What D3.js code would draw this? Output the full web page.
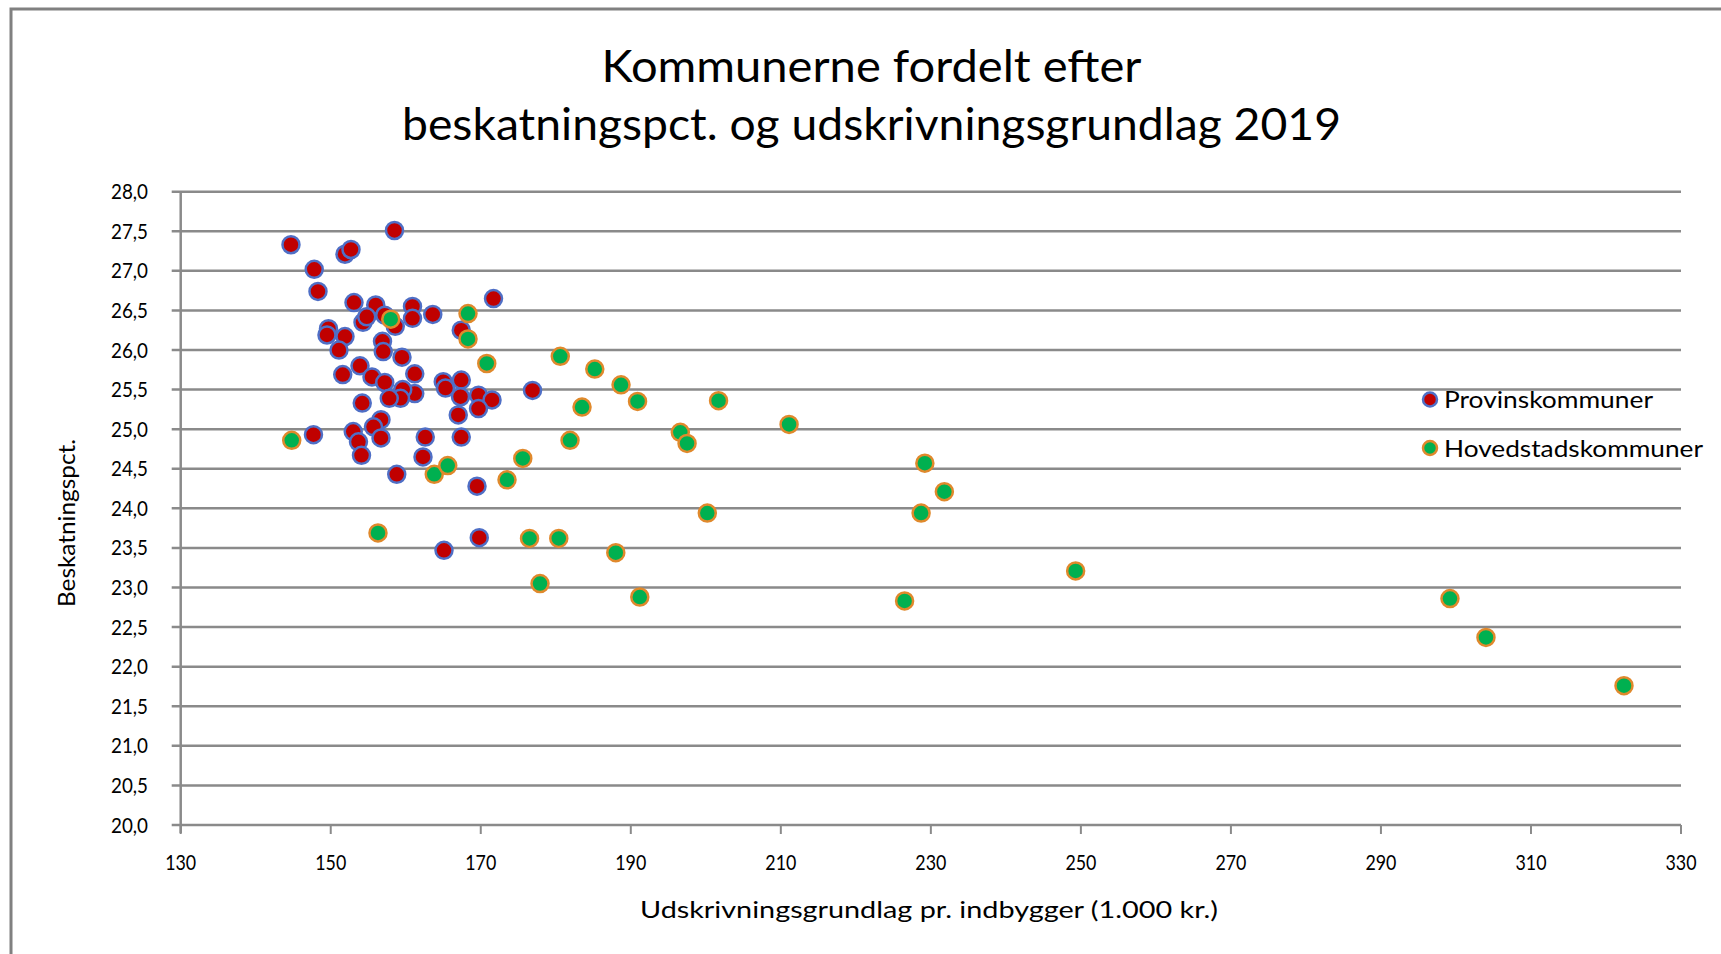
<!DOCTYPE html>
<html>
<head>
<meta charset="utf-8">
<script src="https://cdn.jsdelivr.net/npm/d3@7"></script>
<style>
  body { margin: 0; background: #fff; overflow: hidden; }
  text { font-family: Lato, "Open Sans", sans-serif; fill: #000; }
</style>
</head>
<body>
<div id="chart"></div>
<script>
// Provinskommuner (red markers)
const provX = [144.7, 158.5, 151.9, 152.7, 147.8, 148.3, 153.1, 156.0, 160.9, 160.9, 163.6, 171.7,
    154.3, 154.8, 157.2, 158.6, 167.4, 149.7, 149.5, 151.9, 151.1, 156.9, 157.0, 159.5, 153.9, 151.6,
    155.5, 157.2, 161.2, 165.0, 165.3, 167.4, 176.9, 161.2, 159.6, 159.3, 157.8, 167.3, 169.7, 171.5,
    169.7, 154.2, 167.0, 156.7, 155.7, 153.0, 153.7, 156.7, 154.1, 147.7, 162.6, 162.3, 167.4, 158.8,
    169.5, 169.8, 165.1];
const provY = [27.33, 27.51, 27.21, 27.27, 27.02, 26.74, 26.60, 26.57, 26.55, 26.40, 26.45, 26.65,
    26.35, 26.42, 26.44, 26.30, 26.25, 26.27, 26.19, 26.17, 26.00, 26.11, 25.98, 25.91, 25.80, 25.69,
    25.66, 25.59, 25.70, 25.60, 25.52, 25.62, 25.49, 25.45, 25.50, 25.39, 25.39, 25.41, 25.43, 25.37,
    25.26, 25.33, 25.18, 25.12, 25.03, 24.97, 24.84, 24.89, 24.67, 24.93, 24.90, 24.65, 24.90, 24.43,
    24.28, 23.63, 23.47];

// Hovedstadskommuner (green markers)
const hovX = [168.3, 158.0, 168.3, 170.8, 144.8, 163.8, 165.6, 175.6, 173.5, 156.3, 176.5, 177.9,
    180.6, 185.2, 188.7, 190.9, 201.7, 183.5, 211.1, 196.6, 197.5, 181.9, 200.2, 180.4, 188.0, 191.2,
    229.2, 231.8, 228.7, 249.3, 226.5, 299.2, 304.0, 322.4];
const hovY = [26.46, 26.39, 26.14, 25.83, 24.86, 24.43, 24.54, 24.63, 24.36, 23.69, 23.62, 23.05,
    25.92, 25.76, 25.56, 25.35, 25.36, 25.28, 25.06, 24.96, 24.82, 24.86, 23.94, 23.62, 23.44, 22.88,
    24.57, 24.21, 23.94, 23.21, 22.83, 22.86, 22.37, 21.76];

const xTicks = [130, 150, 170, 190, 210, 230, 250, 270, 290, 310, 330];
const yTicks = [20.0, 20.5, 21.0, 21.5, 22.0, 22.5, 23.0, 23.5, 24.0, 24.5, 25.0, 25.5, 26.0, 26.5, 27.0, 27.5, 28.0];

const titleLines = ["Kommunerne fordelt efter", "beskatningspct. og udskrivningsgrundlag 2019"];
const xTitle = "Udskrivningsgrundlag pr. indbygger (1.000 kr.)";
const yTitle = "Beskatningspct.";
const seriesNames = ["Provinskommuner", "Hovedstadskommuner"];

// Marker styles
const styles = {
    prov: { fill: '#c00000', stroke: '#4f6fc6' },
    hov: { fill: '#00b050', stroke: '#e0892c' }
};

const W = 1721, H = 954;
const plot = { left: 180.7, right: 1681, top: 191.7, bottom: 825 };
const gridColor = '#8a8a8a';

let svg, xScale, yScale;

function init() {
    svg = d3.select("#chart").append("svg")
        .attr("width", W)
        .attr("height", H);

    // Outer chart border
    svg.append("rect")
        .attr("x", 11).attr("y", 9)
        .attr("width", W + 20).attr("height", H + 20)
        .attr("fill", "none")
        .attr("stroke", "#808080")
        .attr("stroke-width", 3);

    xScale = d3.scaleLinear().domain([130, 330]).range([plot.left, plot.right]);
    yScale = d3.scaleLinear().domain([20, 28]).range([plot.bottom, plot.top]);

    drawTitle();
    drawAxes();
    drawPoints();
    drawLegend();
}

function drawTitle() {
    // the reference uses a tall narrow face, so squeeze the glyphs to fit
    const widths = [540, 939];
    const baselines = [82, 140];
    svg.selectAll(".title")
        .data(titleLines)
        .enter().append("text")
        .attr("class", "title")
        .attr("x", 871.5)
        .attr("y", (d, i) => baselines[i])
        .attr("text-anchor", "middle")
        .attr("font-size", 44)
        .attr("textLength", (d, i) => widths[i])
        .attr("lengthAdjust", "spacingAndGlyphs")
        .text(d => d);
}

function drawAxes() {
    // Horizontal gridlines (with small tick stubs left of the axis)
    svg.append("g").selectAll("line")
        .data(yTicks)
        .enter().append("line")
        .attr("x1", plot.left - 9)
        .attr("x2", plot.right)
        .attr("y1", d => yScale(d))
        .attr("y2", d => yScale(d))
        .attr("stroke", gridColor)
        .attr("stroke-width", 2.5);

    // Vertical axis line
    svg.append("line")
        .attr("x1", plot.left).attr("x2", plot.left)
        .attr("y1", plot.top).attr("y2", plot.bottom + 8)
        .attr("stroke", gridColor)
        .attr("stroke-width", 2.5);

    // X ticks below axis
    svg.append("g").selectAll("line")
        .data(xTicks)
        .enter().append("line")
        .attr("x1", d => xScale(d)).attr("x2", d => xScale(d))
        .attr("y1", plot.bottom).attr("y2", plot.bottom + 9)
        .attr("stroke", gridColor)
        .attr("stroke-width", 2);

    const fmt = d => d3.format(".1f")(d).replace(".", ",");

    svg.append("g").selectAll("text")
        .data(yTicks)
        .enter().append("text")
        .attr("x", 148)
        .attr("y", d => yScale(d))
        .attr("dy", "0.36em")
        .attr("text-anchor", "end")
        .attr("font-size", 21)
        .attr("textLength", 37)
        .attr("lengthAdjust", "spacingAndGlyphs")
        .text(fmt);

    svg.append("g").selectAll("text")
        .data(xTicks)
        .enter().append("text")
        .attr("x", d => xScale(d))
        .attr("y", 870)
        .attr("text-anchor", "middle")
        .attr("font-size", 21)
        .attr("textLength", 31)
        .attr("lengthAdjust", "spacingAndGlyphs")
        .text(d => d);

    svg.append("text")
        .attr("x", 929)
        .attr("y", 918)
        .attr("text-anchor", "middle")
        .attr("font-size", 24)
        .attr("textLength", 578)
        .attr("lengthAdjust", "spacingAndGlyphs")
        .text(xTitle);

    svg.append("text")
        .attr("transform", "translate(75,523) rotate(-90)")
        .attr("text-anchor", "middle")
        .attr("font-size", 24)
        .attr("textLength", 168)
        .attr("lengthAdjust", "spacingAndGlyphs")
        .text(yTitle);
}

function drawSeries(xs, ys, style, cls) {
    const pts = xs.map((x, i) => ({ x: x, y: ys[i] }));
    svg.append("g").selectAll("circle")
        .data(pts)
        .enter().append("circle")
        .attr("class", cls)
        .attr("cx", d => xScale(d.x))
        .attr("cy", d => yScale(d.y))
        .attr("r", 8.5)
        .attr("fill", style.fill)
        .attr("stroke", style.stroke)
        .attr("stroke-width", 2.5);
}

function drawPoints() {
    drawSeries(provX, provY, styles.prov, "prov");
    drawSeries(hovX, hovY, styles.hov, "hov");
}

function drawLegend() {
    const items = [
        { name: seriesNames[0], style: styles.prov, y: 399.5, w: 209 },
        { name: seriesNames[1], style: styles.hov, y: 448, w: 259 }
    ];
    const lg = svg.append("g");
    items.forEach(it => {
        lg.append("circle")
            .attr("cx", 1430).attr("cy", it.y)
            .attr("r", 7)
            .attr("fill", it.style.fill)
            .attr("stroke", it.style.stroke)
            .attr("stroke-width", 2.5);
        lg.append("text")
            .attr("x", 1444).attr("y", it.y)
            .attr("dy", "0.36em")
            .attr("font-size", 24)
            .attr("textLength", it.w)
            .attr("lengthAdjust", "spacingAndGlyphs")
            .text(it.name);
    });
}

document.addEventListener('DOMContentLoaded', init);
</script>
</body>
</html>
